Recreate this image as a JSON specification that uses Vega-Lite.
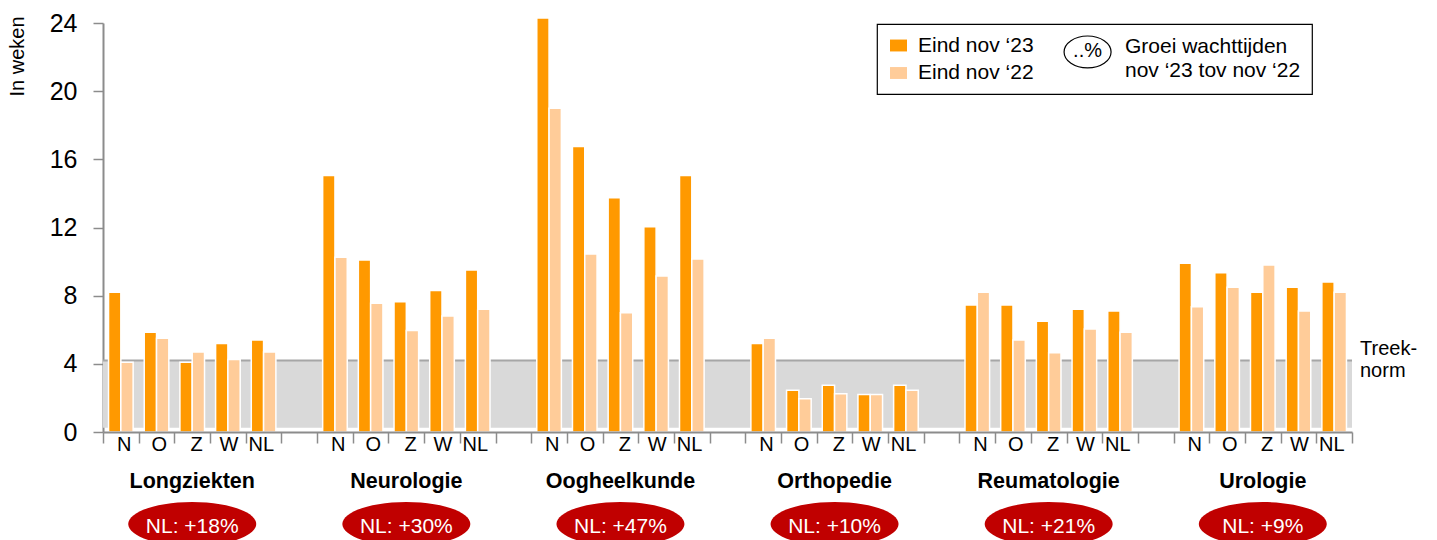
{
  "$schema": "https://vega.github.io/schema/vega-lite/v6.json",
  "width": 1249,
  "height": 409,
  "autosize": {"type": "none"},
  "padding": {"left": 103, "top": 23, "right": 85, "bottom": 108},
  "background": "white",
  "config": {"font": "Liberation Sans", "view": {"stroke": null}, "legend": {"strokeWidth": 1.2}},
  "datasets": {
    "bars": [
      {"group": "Longziekten", "region": "N", "series": "Eind nov ‘23", "value": 8.2},
      {"group": "Longziekten", "region": "N", "series": "Eind nov ‘22", "value": 4.1},
      {"group": "Longziekten", "region": "O", "series": "Eind nov ‘23", "value": 5.85},
      {"group": "Longziekten", "region": "O", "series": "Eind nov ‘22", "value": 5.5},
      {"group": "Longziekten", "region": "Z", "series": "Eind nov ‘23", "value": 4.1},
      {"group": "Longziekten", "region": "Z", "series": "Eind nov ‘22", "value": 4.7},
      {"group": "Longziekten", "region": "W", "series": "Eind nov ‘23", "value": 5.2},
      {"group": "Longziekten", "region": "W", "series": "Eind nov ‘22", "value": 4.25},
      {"group": "Longziekten", "region": "NL", "series": "Eind nov ‘23", "value": 5.4},
      {"group": "Longziekten", "region": "NL", "series": "Eind nov ‘22", "value": 4.7},
      {"group": "Neurologie", "region": "N", "series": "Eind nov ‘23", "value": 15.05},
      {"group": "Neurologie", "region": "N", "series": "Eind nov ‘22", "value": 10.25},
      {"group": "Neurologie", "region": "O", "series": "Eind nov ‘23", "value": 10.1},
      {"group": "Neurologie", "region": "O", "series": "Eind nov ‘22", "value": 7.55},
      {"group": "Neurologie", "region": "Z", "series": "Eind nov ‘23", "value": 7.65},
      {"group": "Neurologie", "region": "Z", "series": "Eind nov ‘22", "value": 5.95},
      {"group": "Neurologie", "region": "W", "series": "Eind nov ‘23", "value": 8.3},
      {"group": "Neurologie", "region": "W", "series": "Eind nov ‘22", "value": 6.8},
      {"group": "Neurologie", "region": "NL", "series": "Eind nov ‘23", "value": 9.5},
      {"group": "Neurologie", "region": "NL", "series": "Eind nov ‘22", "value": 7.2},
      {"group": "Oogheelkunde", "region": "N", "series": "Eind nov ‘23", "value": 24.3},
      {"group": "Oogheelkunde", "region": "N", "series": "Eind nov ‘22", "value": 19.0},
      {"group": "Oogheelkunde", "region": "O", "series": "Eind nov ‘23", "value": 16.75},
      {"group": "Oogheelkunde", "region": "O", "series": "Eind nov ‘22", "value": 10.45},
      {"group": "Oogheelkunde", "region": "Z", "series": "Eind nov ‘23", "value": 13.75},
      {"group": "Oogheelkunde", "region": "Z", "series": "Eind nov ‘22", "value": 7.0},
      {"group": "Oogheelkunde", "region": "W", "series": "Eind nov ‘23", "value": 12.05},
      {"group": "Oogheelkunde", "region": "W", "series": "Eind nov ‘22", "value": 9.15},
      {"group": "Oogheelkunde", "region": "NL", "series": "Eind nov ‘23", "value": 15.05},
      {"group": "Oogheelkunde", "region": "NL", "series": "Eind nov ‘22", "value": 10.15},
      {"group": "Orthopedie", "region": "N", "series": "Eind nov ‘23", "value": 5.2},
      {"group": "Orthopedie", "region": "N", "series": "Eind nov ‘22", "value": 5.5},
      {"group": "Orthopedie", "region": "O", "series": "Eind nov ‘23", "value": 2.45},
      {"group": "Orthopedie", "region": "O", "series": "Eind nov ‘22", "value": 1.95},
      {"group": "Orthopedie", "region": "Z", "series": "Eind nov ‘23", "value": 2.75},
      {"group": "Orthopedie", "region": "Z", "series": "Eind nov ‘22", "value": 2.25},
      {"group": "Orthopedie", "region": "W", "series": "Eind nov ‘23", "value": 2.2},
      {"group": "Orthopedie", "region": "W", "series": "Eind nov ‘22", "value": 2.2},
      {"group": "Orthopedie", "region": "NL", "series": "Eind nov ‘23", "value": 2.75},
      {"group": "Orthopedie", "region": "NL", "series": "Eind nov ‘22", "value": 2.45},
      {"group": "Reumatologie", "region": "N", "series": "Eind nov ‘23", "value": 7.45},
      {"group": "Reumatologie", "region": "N", "series": "Eind nov ‘22", "value": 8.2},
      {"group": "Reumatologie", "region": "O", "series": "Eind nov ‘23", "value": 7.45},
      {"group": "Reumatologie", "region": "O", "series": "Eind nov ‘22", "value": 5.4},
      {"group": "Reumatologie", "region": "Z", "series": "Eind nov ‘23", "value": 6.5},
      {"group": "Reumatologie", "region": "Z", "series": "Eind nov ‘22", "value": 4.65},
      {"group": "Reumatologie", "region": "W", "series": "Eind nov ‘23", "value": 7.2},
      {"group": "Reumatologie", "region": "W", "series": "Eind nov ‘22", "value": 6.05},
      {"group": "Reumatologie", "region": "NL", "series": "Eind nov ‘23", "value": 7.1},
      {"group": "Reumatologie", "region": "NL", "series": "Eind nov ‘22", "value": 5.85},
      {"group": "Urologie", "region": "N", "series": "Eind nov ‘23", "value": 9.9},
      {"group": "Urologie", "region": "N", "series": "Eind nov ‘22", "value": 7.35},
      {"group": "Urologie", "region": "O", "series": "Eind nov ‘23", "value": 9.35},
      {"group": "Urologie", "region": "O", "series": "Eind nov ‘22", "value": 8.5},
      {"group": "Urologie", "region": "Z", "series": "Eind nov ‘23", "value": 8.2},
      {"group": "Urologie", "region": "Z", "series": "Eind nov ‘22", "value": 9.8},
      {"group": "Urologie", "region": "W", "series": "Eind nov ‘23", "value": 8.5},
      {"group": "Urologie", "region": "W", "series": "Eind nov ‘22", "value": 7.1},
      {"group": "Urologie", "region": "NL", "series": "Eind nov ‘23", "value": 8.8},
      {"group": "Urologie", "region": "NL", "series": "Eind nov ‘22", "value": 8.2}
    ],
    "groups": [
      {"group": "Longziekten", "growth": "NL: +18%"},
      {"group": "Neurologie", "growth": "NL: +30%"},
      {"group": "Oogheelkunde", "growth": "NL: +47%"},
      {"group": "Orthopedie", "growth": "NL: +10%"},
      {"group": "Reumatologie", "growth": "NL: +21%"},
      {"group": "Urologie", "growth": "NL: +9%"}
    ],
    "norm": [{"label": "Treek-\nnorm", "value": 4.2, "base": 0.25}],
    "key": [{"text": "..%"}]
  },
  "layer": [
    {
      "data": {"name": "norm"},
      "mark": {"type": "rect", "fill": "#d9d9d9"},
      "encoding": {
        "x": {"datum": "Longziekten|N", "type": "nominal", "bandPosition": 0},
        "x2": {"datum": "Urologie|NL", "bandPosition": 1},
        "y": {"field": "value", "type": "quantitative"},
        "y2": {"field": "base"}
      }
    },
    {
      "data": {"name": "norm"},
      "mark": {"type": "rule", "color": "#a6a6a6", "strokeWidth": 2},
      "encoding": {
        "x": {"datum": "Longziekten|N", "type": "nominal", "bandPosition": 0},
        "x2": {"datum": "Urologie|NL", "bandPosition": 1},
        "y": {"field": "value", "type": "quantitative"}
      }
    },
    {
      "data": {"name": "bars"},
      "transform": [{"calculate": "datum.group + '|' + datum.region", "as": "slot"}],
      "mark": {"type": "bar", "stroke": "white", "strokeWidth": 1.5},
      "encoding": {
        "x": {
          "field": "slot",
          "type": "nominal",
          "sort": null,
          "scale": {
            "domain": [
              "Longziekten|N", "Longziekten|O", "Longziekten|Z", "Longziekten|W", "Longziekten|NL", "Longziekten|",
              "Neurologie|N", "Neurologie|O", "Neurologie|Z", "Neurologie|W", "Neurologie|NL", "Neurologie|",
              "Oogheelkunde|N", "Oogheelkunde|O", "Oogheelkunde|Z", "Oogheelkunde|W", "Oogheelkunde|NL", "Oogheelkunde|",
              "Orthopedie|N", "Orthopedie|O", "Orthopedie|Z", "Orthopedie|W", "Orthopedie|NL", "Orthopedie|",
              "Reumatologie|N", "Reumatologie|O", "Reumatologie|Z", "Reumatologie|W", "Reumatologie|NL", "Reumatologie|",
              "Urologie|N", "Urologie|O", "Urologie|Z", "Urologie|W", "Urologie|NL"
            ],
            "paddingInner": 0,
            "paddingOuter": 0
          },
          "axis": {
            "title": null,
            "labelExpr": "split(datum.value, '|')[1]",
            "labelAngle": 0,
            "labelFontSize": 20,
            "labelColor": "black",
            "labelPadding": 1,
            "labelOffset": 10,
            "tickBand": "extent",
            "tickSize": 11,
            "tickWidth": 1.5,
            "tickColor": "#8c8c8c",
            "domainColor": "#8c8c8c",
            "domainWidth": 2,
            "grid": false
          }
        },
        "xOffset": {
          "field": "series",
          "type": "nominal",
          "scale": {"domain": ["Eind nov ‘23", "Eind nov ‘22"], "paddingInner": 0, "paddingOuter": 0.45}
        },
        "y": {
          "field": "value",
          "type": "quantitative",
          "scale": {"domain": [0, 24], "nice": false, "zero": true},
          "axis": {
            "title": "In weken",
            "titleFontSize": 20,
            "titleFontWeight": "normal",
            "titleColor": "black",
            "titleAngle": -90,
            "titleX": -86,
            "titleY": 33,
            "titleAlign": "center",
            "titleBaseline": "middle",
            "values": [0, 4, 8, 12, 16, 20, 24],
            "labelFontSize": 25,
            "labelColor": "black",
            "labelPadding": 16,
            "tickSize": 10,
            "tickWidth": 1.5,
            "tickColor": "#8c8c8c",
            "domainColor": "#8c8c8c",
            "domainWidth": 2,
            "grid": false
          }
        },
        "color": {
          "field": "series",
          "type": "nominal",
          "scale": {"domain": ["Eind nov ‘23", "Eind nov ‘22"], "range": ["#ff9900", "#ffcc99"]},
          "legend": {
            "orient": "none",
            "legendX": 774,
            "legendY": 1,
            "direction": "vertical",
            "title": ["Groei wachttijden", "nov ‘23 tov nov ‘22"],
            "titleOrient": "right",
            "titlePadding": 91,
            "titleFontSize": 21,
            "titleFontWeight": "normal",
            "titleColor": "black",
            "titleLineHeight": 24,
            "labelFontSize": 21,
            "labelColor": "black",
            "labelOffset": 9,
            "symbolType": "M-1,-0.7H1V0.7H-1Z",
            "symbolSize": 289,
            "symbolStrokeWidth": 0,
            "symbolOpacity": 1,
            "rowPadding": 5.5,
            "padding": 11,
            "strokeColor": "black"
          }
        }
      }
    },
    {
      "data": {"name": "norm"},
      "mark": {"type": "text", "align": "left", "baseline": "middle", "fontSize": 20, "lineHeight": 22, "lineBreak": "\n", "dx": 8, "dy": -11, "color": "black"},
      "encoding": {
        "x": {"datum": "Urologie|NL", "type": "nominal", "bandPosition": 1},
        "y": {"field": "value", "type": "quantitative"},
        "text": {"field": "label"}
      }
    },
    {
      "data": {"name": "groups"},
      "transform": [{"calculate": "datum.group + '|Z'", "as": "slot"}],
      "mark": {"type": "text", "fontSize": 21.5, "fontWeight": "bold", "baseline": "middle", "color": "black"},
      "encoding": {
        "x": {"field": "slot", "type": "nominal"},
        "y": {"datum": -2.93, "type": "quantitative"},
        "text": {"field": "group"}
      }
    },
    {
      "data": {"name": "groups"},
      "transform": [{"calculate": "datum.group + '|Z'", "as": "slot"}],
      "mark": {"type": "point", "shape": "M-1,0A1,0.344,0,1,1,1,0A1,0.344,0,1,1,-1,0Z", "size": 16384, "filled": true, "color": "#c00000", "opacity": 1},
      "encoding": {
        "x": {"field": "slot", "type": "nominal"},
        "y": {"datum": -5.4, "type": "quantitative"}
      }
    },
    {
      "data": {"name": "groups"},
      "transform": [{"calculate": "datum.group + '|Z'", "as": "slot"}],
      "mark": {"type": "text", "fontSize": 21, "baseline": "middle", "color": "white"},
      "encoding": {
        "x": {"field": "slot", "type": "nominal"},
        "y": {"datum": -5.55, "type": "quantitative"},
        "text": {"field": "growth"}
      }
    },
    {
      "data": {"name": "key"},
      "mark": {"type": "point", "shape": "M-1,0A1,0.68,0,1,1,1,0A1,0.68,0,1,1,-1,0Z", "size": 2209, "filled": true, "fill": "white", "stroke": "black", "strokeWidth": 1.2, "opacity": 1},
      "encoding": {
        "x": {"datum": "Reumatologie|W", "type": "nominal", "bandPosition": 0.59},
        "y": {"datum": 22.3, "type": "quantitative"}
      }
    },
    {
      "data": {"name": "key"},
      "mark": {"type": "text", "fontSize": 20, "baseline": "middle", "color": "black"},
      "encoding": {
        "x": {"datum": "Reumatologie|W", "type": "nominal", "bandPosition": 0.59},
        "y": {"datum": 22.35, "type": "quantitative"},
        "text": {"field": "text"}
      }
    }
  ]
}
